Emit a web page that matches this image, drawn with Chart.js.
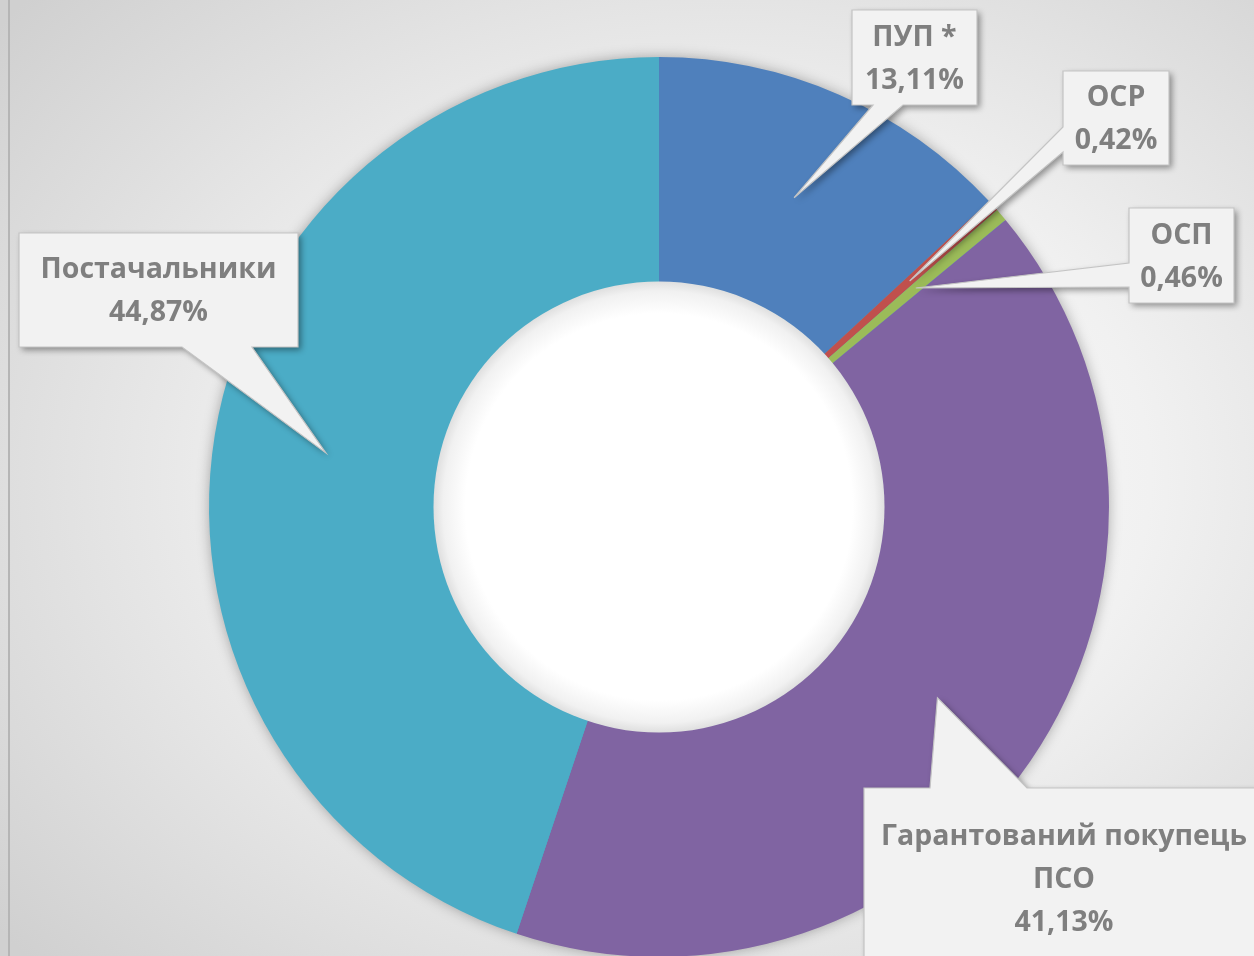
<!DOCTYPE html>
<html>
<head>
<meta charset="utf-8">
<script src="https://cdn.jsdelivr.net/npm/chart.js@4.4.1/dist/chart.umd.min.js"></script>
<style>
  html, body { margin: 0; padding: 0; overflow: hidden; width: 1254px; height: 956px; }
  body {
    background: radial-gradient(ellipse 75% 75% at 58% 50%, #ffffff 0%, #f1f1f1 45%, #d0d0d0 100%);
    position: relative;
  }
  #leftEdge { position: absolute; left: 8px; top: 0; width: 2px; height: 956px; background: #b5b5b5; }
  #wrap { position: absolute; left: 0; top: 0; }
</style>
</head>
<body>
<div id="leftEdge"></div>
<div id="wrap"><canvas id="chart" width="1254" height="1000"></canvas></div>
<script>
// data
const categories = ['ПУП *', 'ОСР', 'ОСП', ['Гарантований покупець', 'ПСО'], 'Постачальники'];
const shares = [13.11, 0.42, 0.46, 41.13, 44.87];
const sliceColors = ['#4F80BC', '#C0504D', '#9BBB59', '#8064A2', '#4BACC6'];

// callout boxes (layout only): box rect + which side the pointer leaves from
const callouts = [
  { x: 852, y: 10, w: 125, h: 95, side: 'bottom', b0: 21, b1: 51 },
  { x: 1063, y: 71, w: 106, h: 94, side: 'left', b0: 56, b1: 81 },
  { x: 1129, y: 208, w: 105, h: 95, side: 'left', b0: 55, b1: 79 },
  { x: 864, y: 788, w: 400, h: 181, side: 'top', b0: 66, b1: 163 },
  { x: 19, y: 233, w: 279, h: 114, side: 'bottom', b0: 163, b1: 233 }
];

const fmt = v => v.toFixed(2).replace('.', ',') + '%';

// тінь під кільцем + "дірка" з внутрішньою тінню
const ringDecor = {
  id: 'ringDecor',
  beforeDatasetsDraw(chart) {
    const arc = chart.getDatasetMeta(0).data[0];
    if (!arc) return;
    const ctx = chart.ctx;
    ctx.save();
    ctx.shadowColor = 'rgba(0,0,0,0.35)';
    ctx.shadowBlur = 14;
    ctx.beginPath();
    ctx.arc(arc.x, arc.y, arc.outerRadius - 1, 0, Math.PI * 2);
    ctx.fillStyle = '#4BACC6';
    ctx.fill();
    ctx.restore();
  },
  afterDatasetsDraw(chart) {
    const arc = chart.getDatasetMeta(0).data[0];
    if (!arc) return;
    const ctx = chart.ctx;
    const r = arc.innerRadius;
    const g = ctx.createRadialGradient(arc.x, arc.y, 0, arc.x, arc.y, r);
    g.addColorStop(0, '#ffffff');
    g.addColorStop(0.86, '#ffffff');
    g.addColorStop(0.96, '#f1f1f1');
    g.addColorStop(1, '#e0e0e0');
    ctx.save();
    ctx.beginPath();
    ctx.arc(arc.x, arc.y, r + 0.5, 0, Math.PI * 2);
    ctx.fillStyle = g;
    ctx.fill();
    ctx.restore();
  }
};

// підписи-виноски
const calloutLabels = {
  id: 'calloutLabels',
  afterDraw(chart) {
    const ctx = chart.ctx;
    const meta = chart.getDatasetMeta(0);
    meta.data.forEach((arc, i) => {
      const c = callouts[i];
      const tip = arc.getCenterPoint();
      ctx.save();
      ctx.beginPath();
      if (c.side === 'top') {
        ctx.moveTo(c.x, c.y);
        ctx.lineTo(c.x + c.b0, c.y);
        ctx.lineTo(tip.x, tip.y);
        ctx.lineTo(c.x + c.b1, c.y);
        ctx.lineTo(c.x + c.w, c.y);
        ctx.lineTo(c.x + c.w, c.y + c.h);
        ctx.lineTo(c.x, c.y + c.h);
      } else if (c.side === 'bottom') {
        ctx.moveTo(c.x, c.y);
        ctx.lineTo(c.x + c.w, c.y);
        ctx.lineTo(c.x + c.w, c.y + c.h);
        ctx.lineTo(c.x + c.b1, c.y + c.h);
        ctx.lineTo(tip.x, tip.y);
        ctx.lineTo(c.x + c.b0, c.y + c.h);
        ctx.lineTo(c.x, c.y + c.h);
      } else {
        ctx.moveTo(c.x, c.y);
        ctx.lineTo(c.x + c.w, c.y);
        ctx.lineTo(c.x + c.w, c.y + c.h);
        ctx.lineTo(c.x, c.y + c.h);
        ctx.lineTo(c.x, c.y + c.b1);
        ctx.lineTo(tip.x, tip.y);
        ctx.lineTo(c.x, c.y + c.b0);
      }
      ctx.closePath();
      ctx.shadowColor = 'rgba(0,0,0,0.4)';
      ctx.shadowBlur = 6;
      ctx.shadowOffsetX = 3;
      ctx.shadowOffsetY = 3;
      ctx.fillStyle = '#f2f2f2';
      ctx.fill();
      ctx.shadowColor = 'transparent';
      ctx.lineWidth = 1.2;
      ctx.strokeStyle = '#c4c4c4';
      ctx.stroke();

      const lbl = chart.data.labels[i];
      const lines = (Array.isArray(lbl) ? lbl : [lbl]).concat(fmt(chart.data.datasets[0].data[i]));
      const lh = 43;
      const cx = c.x + c.w / 2;
      const cy = c.y + c.h / 2 + 1.5 - (lines.length - 1) * lh / 2;
      ctx.fillStyle = '#7f7f7f';
      ctx.font = 'bold 28.5px "Open Sans"';
      ctx.textAlign = 'center';
      ctx.textBaseline = 'middle';
      lines.forEach((t, k) => ctx.fillText(t, cx, cy + k * lh));
      ctx.restore();
    });
  }
};

new Chart(document.getElementById('chart'), {
  type: 'doughnut',
  data: {
    labels: categories,
    datasets: [{
      data: shares,
      backgroundColor: sliceColors,
      borderWidth: 0
    }]
  },
  options: {
    responsive: false,
    animation: false,
    cutout: '50%',
    layout: { padding: { left: 209, right: 145, top: 57, bottom: 43 } },
    plugins: {
      legend: { display: false },
      tooltip: { enabled: false }
    }
  },
  plugins: [ringDecor, calloutLabels]
});
</script>
</body>
</html>
